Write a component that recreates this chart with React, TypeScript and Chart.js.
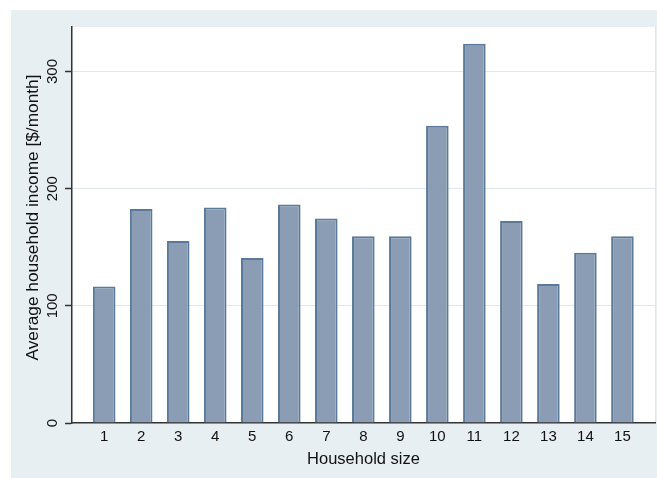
import { useEffect, useRef } from "react";
import { Chart, registerables } from "chart.js";

Chart.register(...registerables);

// Household size categories and the average monthly income for each
const householdSizes = [1, 2, 3, 4, 5, 6, 7, 8, 9, 10, 11, 12, 13, 14, 15];
const avgIncome = [116.6, 182.6, 155.3, 184, 140.8, 186.5, 174.6, 159.5, 159.5, 253.7, 323.7, 172.4, 118.6, 145.3, 159.5];
const yTickValues = [0, 100, 200, 300];
const xAxisTitle = "Household size";
const yAxisTitle = "Average household income [$/month]";

const FONT = '"Liberation Sans", Arial, Helvetica, sans-serif';
const TEXT = "#111111";

// Paints the outer graph region and the white plot region, and draws the
// rotated y-axis labels and title.
const framePlugin = {
  id: "stataFrame",
  beforeDraw(chart: any) {
    const { ctx, chartArea: a, width, height } = chart;
    ctx.save();
    ctx.fillStyle = "#ffffff";
    ctx.fillRect(0, 0, width, height);
    ctx.fillStyle = "#e8eff2";
    ctx.fillRect(11, 10, width - 11, height - 10);
    ctx.fillStyle = "#ffffff";
    ctx.fillRect(a.left, a.top, a.right - a.left, a.bottom - a.top);
    ctx.strokeStyle = "#dde6ec";
    ctx.lineWidth = 1;
    ctx.beginPath();
    ctx.moveTo(a.right + 0.5, a.top);
    ctx.lineTo(a.right + 0.5, a.bottom);
    ctx.stroke();
    ctx.restore();
  },
  afterDraw(chart: any) {
    const { ctx, chartArea: a } = chart;
    const yScale = chart.scales.y;
    ctx.save();
    ctx.fillStyle = TEXT;
    ctx.textAlign = "center";
    ctx.textBaseline = "middle";
    ctx.font = `15px ${FONT}`;
    for (const t of yScale.ticks) {
      const py = yScale.getPixelForValue(t.value);
      ctx.save();
      ctx.translate(a.left - 19, py);
      ctx.rotate(-Math.PI / 2);
      ctx.fillText(String(t.value), 0, 0);
      ctx.restore();
    }
    ctx.font = `17.3px ${FONT}`;
    ctx.save();
    ctx.translate(a.left - 39, (a.top + a.bottom) / 2 - 7.5);
    ctx.rotate(-Math.PI / 2);
    ctx.fillText(yAxisTitle, 0, 0);
    ctx.restore();
    ctx.restore();
  },
};

export default function App() {
  const canvasRef = useRef<HTMLCanvasElement>(null);

  useEffect(() => {
    const canvas = canvasRef.current;
    if (!canvas) return;
    const chart = new Chart(canvas, {
      type: "bar",
      data: {
        datasets: [
          {
            data: householdSizes.map((x, i) => ({ x, y: avgIncome[i] })) as any,
            backgroundColor: "#8b9db5",
            borderColor: "#5b7999",
            borderWidth: 2,
            barPercentage: 0.61,
            categoryPercentage: 1,
          },
        ],
      },
      options: {
        responsive: false,
        animation: false,
        devicePixelRatio: 1,
        layout: { padding: { top: 27, right: 2, left: 0, bottom: 0 } },
        plugins: {
          legend: { display: false },
          tooltip: { enabled: false },
        },
        scales: {
          x: {
            type: "linear",
            offset: false,
            min: 0.13,
            max: 15.88,
            afterBuildTicks: (s: any) => {
              s.ticks = householdSizes.map((v) => ({ value: v }));
            },
            afterFit: (s: any) => {
              s.height = 55;
            },
            grid: { display: false, drawTicks: false },
            border: { display: true, color: "#333333", width: 1.5 },
            ticks: {
              font: { family: FONT, size: 15 },
              color: TEXT,
              padding: 5,
              autoSkip: false,
              maxRotation: 0,
              callback: (v: any) => String(v),
            },
            title: {
              display: true,
              text: xAxisTitle,
              font: { family: FONT, size: 16.5 },
              color: TEXT,
              padding: { top: 0, bottom: 8.5 },
            },
          },
          y: {
            type: "linear",
            min: 0,
            max: 338,
            afterBuildTicks: (s: any) => {
              s.ticks = yTickValues.map((v) => ({ value: v }));
            },
            afterFit: (s: any) => {
              s.width = 72;
            },
            grid: {
              color: (c: any) => (c.tick && c.tick.value === 0 ? "rgba(0,0,0,0)" : "#dfe8ee"),
              lineWidth: 1,
              drawTicks: true,
              tickLength: 7,
              tickColor: "#333333",
              tickWidth: 1.5,
            },
            border: { display: true, color: "#333333", width: 1.5 },
            ticks: { display: false },
          },
        },
      },
      plugins: [framePlugin],
    });
    return () => chart.destroy();
  }, []);

  return (
    <div style={{ position: "absolute", left: 0, top: 0, width: 657, height: 478 }}>
      <canvas ref={canvasRef} width={657} height={478} style={{ display: "block", width: 657, height: 478 }} />
    </div>
  );
}
